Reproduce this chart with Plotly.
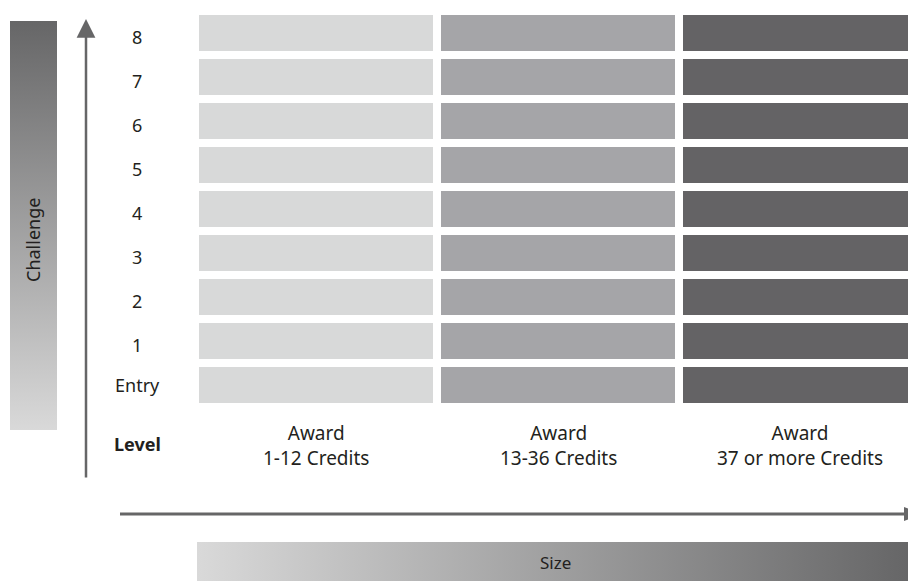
import base64
import plotly.graph_objects as go

# ---- data ----
levels = ["Entry", "1", "2", "3", "4", "5", "6", "7", "8"]
awards = ["Award<br>1-12 Credits", "Award<br>13-36 Credits", "Award<br>37 or more Credits"]
award_units = [1, 1, 1]          # each award band is one column unit wide
award_colors = ["#d8d9d9", "#a5a5a8", "#646365"]
axis_titles = {"y": "Challenge", "x": "Size", "corner": "Level"}

W, H = 908, 581
# plot area in page pixels: x 195..908, y 11..407
L, T, R = 195, 11, 0
B = H - 407
PW, PH = W - L - R, H - T - B
FONT = "Noto Sans"
ARROW = "#666667"


def px2x(px):
    return (px - L) / PW


def px2y(py):
    return (H - B - py) / PH


def grad_svg(vertical):
    if vertical:
        coords = 'x1="0" y1="0" x2="0" y2="1"'
    else:
        coords = 'x1="1" y1="0" x2="0" y2="0"'
    svg = ('<svg xmlns="http://www.w3.org/2000/svg" width="100" height="100" '
           'viewBox="0 0 100 100" preserveAspectRatio="none"><defs>'
           f'<linearGradient id="g" {coords}>'
           '<stop offset="0" stop-color="#666667"/>'
           '<stop offset="1" stop-color="#d9d9d9"/></linearGradient></defs>'
           '<rect width="100" height="100" fill="url(#g)"/></svg>')
    return "data:image/svg+xml;base64," + base64.b64encode(svg.encode()).decode()


fig = go.Figure()
yidx = list(range(len(levels)))
for a, u, c in zip(awards, award_units, award_colors):
    fig.add_trace(go.Bar(
        y=yidx, x=[u] * len(levels), orientation="h", name=a,
        marker=dict(color=c, line=dict(color="white", width=8)),
        width=1, hoverinfo="skip", showlegend=False,
    ))

TXT = "#231f20"
annotations = []
# row labels
for i, lv in enumerate(levels):
    annotations.append(dict(x=px2x(137), y=i, xref="paper", yref="y", text=lv,
                            showarrow=False, xanchor="center", yanchor="middle",
                            yshift=-4 if i else 0,
                            font=dict(family=FONT, size=18, color=TXT)))
# "Level" corner label
annotations.append(dict(x=px2x(137), y=px2y(444), xref="paper", yref="paper",
                        text="<b>" + axis_titles["corner"] + "</b>", showarrow=False,
                        xanchor="center", yanchor="middle",
                        font=dict(family=FONT, size=18, color=TXT)))
# column labels
for j, a in enumerate(awards):
    annotations.append(dict(x=j + 0.5, y=px2y(445), xref="x", yref="paper", text=a,
                            showarrow=False, xanchor="center", yanchor="middle",
                            font=dict(family=FONT, size=19, color=TXT)))
# gradient bar labels
annotations.append(dict(x=px2x(33), y=px2y(240), xref="paper", yref="paper",
                        text=axis_titles["y"], textangle=-90, showarrow=False,
                        xanchor="center", yanchor="middle",
                        font=dict(family=FONT, size=18, color=TXT)))
annotations.append(dict(x=px2x(555), y=px2y(562), xref="paper", yref="paper",
                        text=axis_titles["x"], showarrow=False,
                        xanchor="center", yanchor="middle",
                        font=dict(family=FONT, size=17, color=TXT)))
# vertical arrow
annotations.append(dict(x=px2x(86), y=px2y(19), xref="paper", yref="paper", text="",
                        showarrow=True, ax=0, ay=460, arrowhead=2, arrowsize=1.5,
                        arrowwidth=2.5, arrowcolor=ARROW, standoff=0))

# horizontal arrow: shaft + head running off the right edge
shapes = [
    dict(type="line", xref="paper", yref="paper", x0=px2x(120), x1=px2x(906),
         y0=px2y(514), y1=px2y(514), line=dict(color=ARROW, width=3)),
    dict(type="path", xref="paper", yref="paper",
         path=(f"M {px2x(904)} {px2y(507)} L {px2x(922)} {px2y(514)} "
               f"L {px2x(904)} {px2y(521)} Z"),
         fillcolor=ARROW, line=dict(width=0)),
]

images = [
    dict(source=grad_svg(True), xref="paper", yref="paper", x=px2x(10), y=px2y(21),
         sizex=47 / PW, sizey=409 / PH, xanchor="left", yanchor="top",
         sizing="stretch", layer="below"),
    dict(source=grad_svg(False), xref="paper", yref="paper", x=px2x(197), y=px2y(542),
         sizex=(W - 197) / PW, sizey=40 / PH, xanchor="left", yanchor="top",
         sizing="stretch", layer="below"),
]

fig.update_layout(
    width=W, height=H, margin=dict(l=L, r=R, t=T, b=B, pad=0),
    paper_bgcolor="white", plot_bgcolor="white",
    barmode="stack", bargap=0,
    xaxis=dict(range=[0, PW / 242], showgrid=False, zeroline=False,
               showticklabels=False, showline=False, fixedrange=True),
    yaxis=dict(range=[-0.5, len(levels) - 0.5], showgrid=False, zeroline=False,
               showticklabels=False, showline=False, fixedrange=True),
    annotations=annotations, images=images, shapes=shapes,
    font=dict(family=FONT),
)

fig.write_html("out.html", config={"displayModeBar": False},
               post_script="document.body.style.margin='0';"
                           "document.body.style.overflow='hidden';")
